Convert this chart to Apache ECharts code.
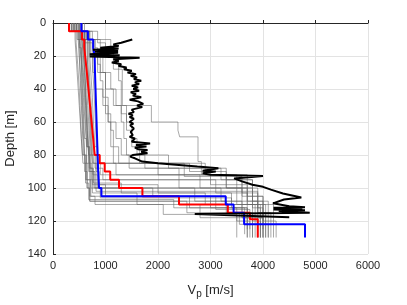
<!DOCTYPE html>
<html>
<head>
<meta charset="utf-8">
<script src="https://cdn.jsdelivr.net/npm/echarts@6/dist/echarts.min.js"></script>
<style>html,body{margin:0;padding:0;background:#fff;}#c{width:407px;height:305px;}</style>
</head>
<body>
<div id="c"></div>
<script>
// Tick settings
const xTicks = [0, 1000, 2000, 3000, 4000, 5000, 6000];
const yTicks = [0, 20, 40, 60, 80, 100, 120, 140];

// Layered profiles: [velocity (m/s), layer bottom depth (m)]
const redProfile = [[305,5],[553,10],[595,15],[612,20],[628,25],[645,30],[660,35],[675,40],[690,45],[705,50],[720,55],[735,60],[750,65],[765,70],[780,75],[795,80],[890,85],[985,90],[1090,95],[1257,100],[1703,105],[2400,110],[3330,115],[3750,119],[3900,130]];
const blueProfile = [[540,5],[665,10],[765,15],[794,20],[800,30],[810,40],[820,50],[830,60],[840,70],[850,80],[860,90],[877,100],[922,105],[3290,110],[3440,115],[3640,122],[4800,130]];

const gray01 = [[350,5],[420,10],[440,20],[460,30],[480,40],[500,50],[520,60],[540,70],[560,80],[600,90],[650,100],[700,108],[2550,115],[3550,122],[3700,130]];
const gray02 = [[400,5],[480,10],[500,20],[520,35],[540,50],[560,65],[580,80],[620,95],[700,105],[3000,112],[3500,120],[3750,130]];
const gray03 = [[450,5],[500,15],[540,25],[560,40],[580,55],[600,70],[640,85],[700,95],[750,103],[1600,110],[2800,118],[3800,130]];
const gray04 = [[300,5],[550,10],[580,20],[600,30],[620,45],[640,60],[660,75],[700,90],[800,100],[3200,108],[3900,118],[4000,130]];
const gray05 = [[500,5],[600,10],[650,20],[680,35],[700,50],[720,65],[740,80],[800,88],[950,95],[2400,100],[3600,110],[3950,122],[4100,130]];
const gray06 = [[550,5],[700,12],[750,25],[780,40],[800,55],[820,70],[850,85],[900,92],[3000,98],[3700,108],[4000,120],[4250,130]];
const gray07 = [[450,5],[650,10],[900,18],[950,30],[1000,45],[1050,60],[1100,75],[1150,85],[2000,92],[3500,102],[3900,115],[4050,130]];
const gray08 = [[500,5],[750,10],[1100,15],[1150,20],[1250,35],[1300,55],[1400,65],[1500,75],[1650,85],[2900,92],[3700,105],[4000,118],[3900,130]];
const gray09 = [[400,5],[600,12],[700,20],[900,30],[1100,40],[1200,50],[1400,60],[1500,70],[1600,80],[1750,88],[3300,95],[3800,110],[4200,130]];
const gray10 = [[500,5],[850,12],[1000,20],[1150,28],[1320,35],[1320,50],[1874,60],[2380,65],[2413,69],[2762,84],[2826,92],[3300,100],[3900,112],[4000,125]];
const gray11 = [[400,5],[550,10],[620,20],[650,30],[680,45],[700,60],[720,75],[750,85],[2600,90],[3300,100],[3800,112],[3950,130]];
const gray12 = [[350,5],[500,10],[530,20],[560,30],[580,45],[610,60],[640,75],[680,90],[720,100],[900,106],[3400,112],[3700,125]];
const gray13 = [[600,5],[650,10],[700,20],[720,30],[750,45],[770,60],[800,75],[850,85],[1200,92],[2800,100],[3700,110],[3850,130]];
const gray14 = [[450,5],[700,10],[800,20],[850,30],[1000,40],[1150,50],[1300,60],[1350,70],[1400,80],[2200,88],[3200,95],[3800,108],[4100,130]];
const gray15 = [[520,5],[580,10],[620,20],[640,35],[660,50],[690,65],[710,80],[760,92],[850,100],[1900,105],[3100,113],[3750,125]];
const gray16 = [[380,5],[460,10],[500,20],[530,35],[550,50],[570,65],[600,80],[640,95],[720,105],[800,110],[2100,116],[3500,130]];
const gray17 = [[480,5],[520,10],[560,20],[590,35],[620,50],[650,65],[680,80],[720,90],[780,100],[2700,108],[3600,118],[3900,130]];
const gray18 = [[420,5],[680,10],[720,20],[760,30],[800,40],[950,50],[1050,60],[1200,70],[1300,80],[1450,88],[2400,95],[3600,105],[4000,130]];
const gray19 = [[550,5],[620,10],[660,25],[690,40],[710,55],[740,70],[770,85],[820,95],[3100,103],[3900,115],[4150,130]];
const gray20 = [[300,5],[480,10],[540,20],[570,30],[600,45],[620,60],[650,75],[690,88],[750,98],[1000,105],[2600,112],[3650,128]];
const gray21 = [[420,5],[520,10],[540,25],[550,40],[570,55],[590,70],[610,85],[650,100],[700,108],[3300,115],[3800,130]];
const gray22 = [[380,5],[440,12],[470,25],[500,40],[520,55],[540,70],[570,85],[620,97],[680,107],[2300,112],[3700,122],[3950,130]];
const gray23 = [[560,5],[640,10],[680,20],[700,35],[730,50],[760,65],[780,80],[820,90],[880,98],[2000,103],[3400,110],[4050,130]];
const gray24 = [[480,5],[560,10],[600,25],[620,40],[640,55],[660,70],[690,85],[740,95],[820,102],[3500,110],[3800,120],[3950,130]];
const gray25 = [[350,5],[600,10],[800,15],[850,25],[900,35],[950,45],[1000,55],[1100,65],[1150,75],[1250,85],[2500,93],[3600,103],[3700,130]];
const gray26 = [[450,5],[530,10],[580,20],[610,30],[630,45],[660,60],[680,75],[710,88],[770,97],[1300,103],[2900,110],[3600,118],[4000,130]];
const grayProfiles = [gray01, gray02, gray03, gray04, gray05, gray06, gray07, gray08, gray09, gray10, gray11, gray12, gray13, gray14, gray15, gray16, gray17, gray18, gray19, gray20, gray21, gray22, gray23, gray24, gray25, gray26];

// Measured log: [velocity (m/s), depth (m)]
const blackLog = [[1510,10],[1300,12],[1150,13],[1250,14],[900,15],[1250,15.5],[760,16.2],[1240,16.8],[800,17.4],[1240,18],[700,19],[1270,19.6],[700,20.3],[1650,21],[1150,22],[1250,23],[1120,24],[1300,25],[1250,26],[1400,27],[1350,28],[1500,29],[1420,30],[1580,31],[1480,32],[1600,33],[1540,34],[1680,35],[1560,36],[1640,37],[1500,38],[1620,39],[1530,40],[1640,41],[1480,42],[1580,43],[1520,44],[1680,45],[1460,46.5],[1620,47.5],[1720,49],[1600,50],[1700,51],[1500,52.5],[1540,54],[1440,55],[1520,56],[1460,57],[1540,58],[1460,60],[1530,61],[1470,62],[1540,64],[1480,66],[1520,68],[1460,69],[1560,70],[1500,72],[1850,73],[1580,74],[1780,74.8],[1560,75.5],[1620,76.5],[1800,77],[1680,78],[1800,79],[1520,80],[1470,81],[1560,82],[1700,84],[2000,85],[2400,86],[2750,87],[3150,88],[2850,89.5],[3100,90],[2850,91],[3000,92],[4000,92.8],[3450,94.2],[3600,96],[3800,98],[4000,99.3],[4150,101],[4380,103.3],[4730,105.7],[4400,107],[4190,109.3],[4500,111],[4800,111.6],[4200,112],[4750,112.5],[4200,113],[4800,113.5],[4300,114],[4890,115],[2700,115.8],[4500,117.8]];

function steps(layers) {
  const pts = [];
  let top = 0;
  for (const [v, b] of layers) { pts.push([v, top]); pts.push([v, b]); top = b; }
  return pts;
}

const series = [];
grayProfiles.forEach(p => series.push({
  type: 'line', data: steps(p), showSymbol: false, silent: true,
  lineStyle: { color: 'rgba(100,100,100,0.7)', width: 0.8 }
}));
series.push({ type: 'line', data: steps(redProfile), showSymbol: false, lineStyle: { color: '#ff0000', width: 2 } });
series.push({ type: 'line', data: steps(blueProfile), showSymbol: false, lineStyle: { color: '#0000ff', width: 2 } });
series.push({ type: 'line', data: blackLog.map(p => [p[0], p[1]]), showSymbol: false, lineStyle: { color: '#000000', width: 2 } });

const chart = echarts.init(document.getElementById('c'), null, { renderer: 'canvas' });
const font = 'Liberation Sans, Arial, sans-serif';
const axisTxt = { color: '#262626', fontSize: 11, fontFamily: font, formatter: v => String(v) };
chart.setOption({
  animation: false,
  grid: { left: 53, right: 39, top: 23, bottom: 51, containLabel: false, outerBoundsMode: 'none' },
  xAxis: {
    type: 'value', min: xTicks[0], max: xTicks[xTicks.length - 1], interval: 1000,
    name: 'V{s|p} [m/s]', nameLocation: 'middle', nameGap: 27,
    nameTextStyle: { color: '#262626', fontSize: 13, fontFamily: font,
      rich: { s: { fontSize: 10, fontFamily: font, verticalAlign: 'bottom', padding: [8, 0, 0, 0], color: '#262626' } } },
    axisLine: { show: true, lineStyle: { color: '#262626', width: 1 } },
    axisTick: { show: true, inside: true, length: 3, lineStyle: { color: '#262626' } },
    axisLabel: Object.assign({ margin: 6 }, axisTxt),
    splitLine: { show: true, lineStyle: { color: '#e3e3e3', width: 1 } }
  },
  yAxis: {
    type: 'value', inverse: true, min: yTicks[0], max: yTicks[yTicks.length - 1], interval: 20,
    name: 'Depth [m]', nameLocation: 'middle', nameGap: 33, nameRotate: 90,
    nameTextStyle: { color: '#262626', fontSize: 13, fontFamily: font },
    axisLine: { show: true, lineStyle: { color: '#262626', width: 1 } },
    axisTick: { show: true, inside: true, length: 3, lineStyle: { color: '#262626' } },
    axisLabel: Object.assign({ margin: 7 }, axisTxt),
    splitLine: { show: true, lineStyle: { color: '#e3e3e3', width: 1 } }
  },
  series: series
});
</script>
</body>
</html>
